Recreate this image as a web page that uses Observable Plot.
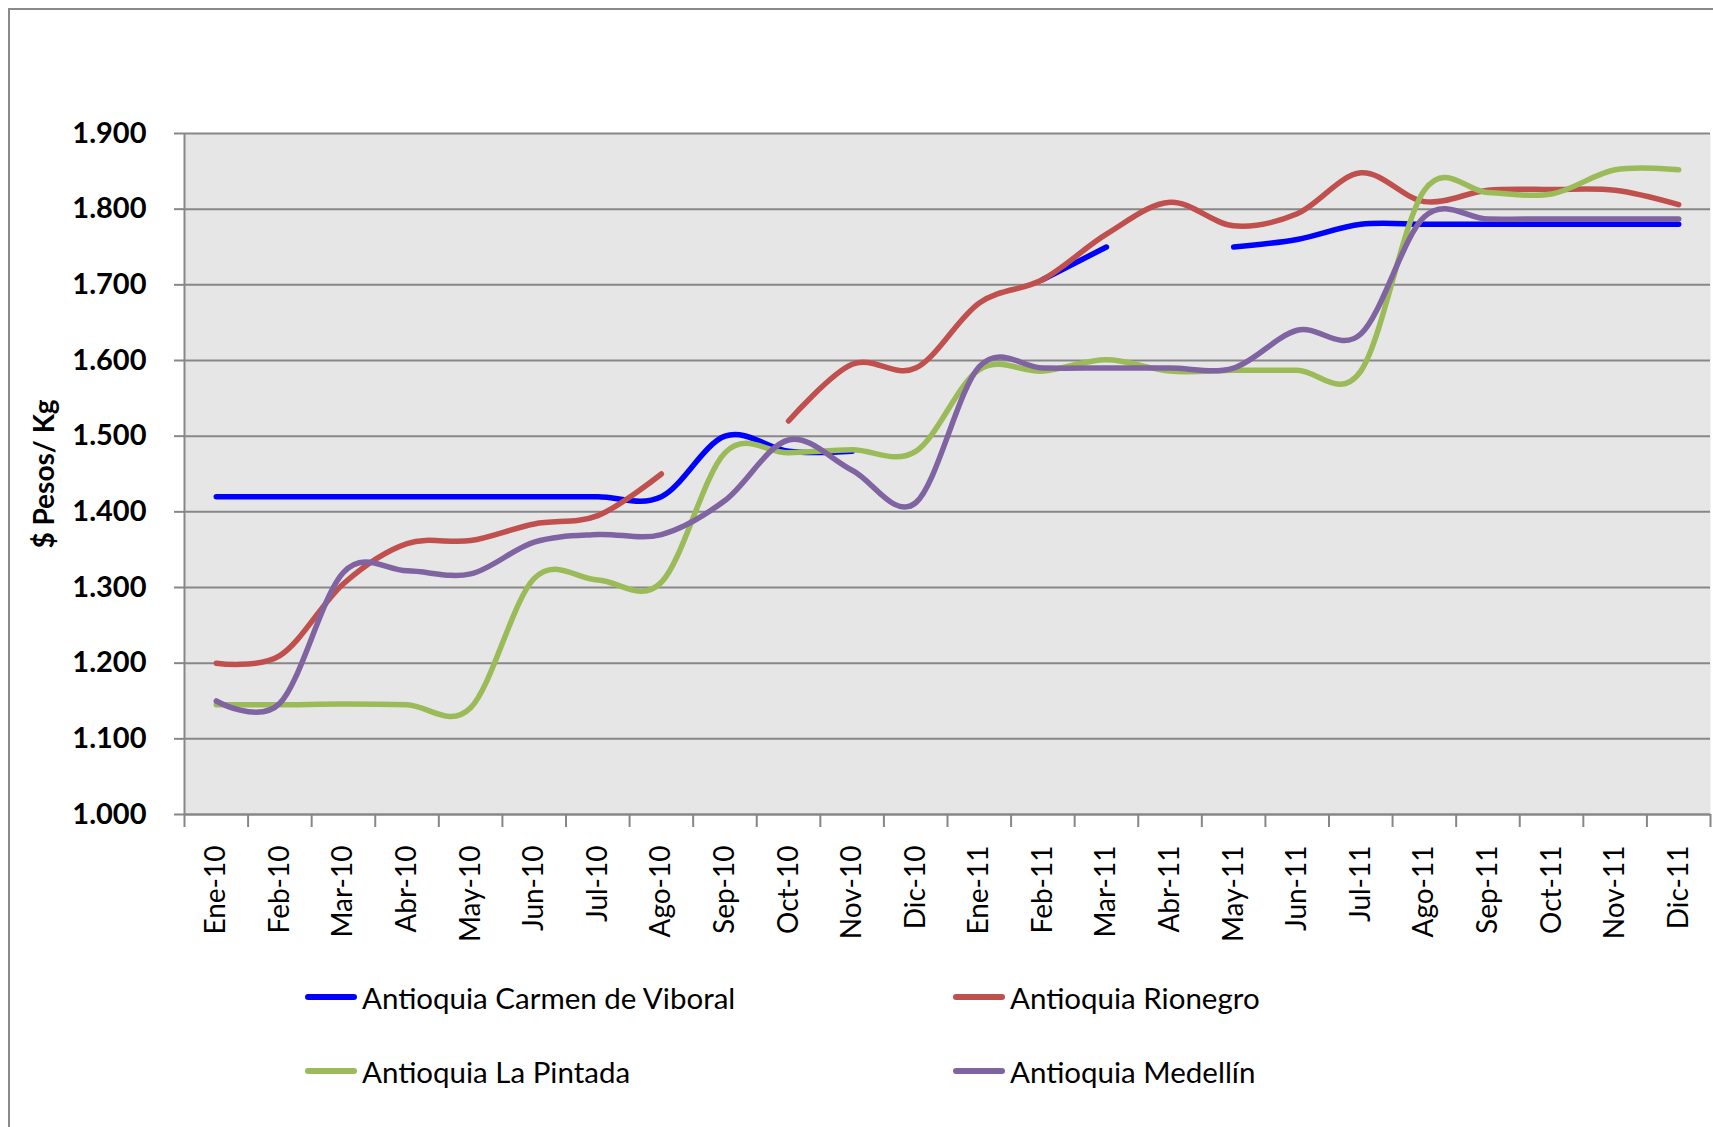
<!DOCTYPE html>
<html>
<head>
<meta charset="utf-8">
<script src="https://cdn.jsdelivr.net/npm/d3@7"></script>
<script src="https://cdn.jsdelivr.net/npm/@observablehq/plot@0.6"></script>
<style>
  html, body { margin: 0; padding: 0; background: #fff; overflow: hidden; }
  body { width: 1713px; height: 1127px; position: relative; font-family: Lato, "Open Sans", sans-serif; }
  #chart { position: absolute; left: 0; top: 0; }
  #frame { position: absolute; left: 8px; top: 8px; width: 1800px; height: 1300px;
           border-left: 2px solid #8a8a8a; border-top: 2px solid #8a8a8a; pointer-events: none; }
  .leg { position: absolute; display: flex; align-items: center; font-size: 29.5px; color: #000; white-space: nowrap; }
  .leg .sw { width: 52px; height: 5.5px; border-radius: 3px; margin-right: 5px; }
</style>
</head>
<body>
<div id="chart"></div>
<div id="legend"></div>
<div id="frame"></div>
<script>
const months = ["Ene-10","Feb-10","Mar-10","Abr-10","May-10","Jun-10","Jul-10","Ago-10","Sep-10","Oct-10","Nov-10","Dic-10",
                "Ene-11","Feb-11","Mar-11","Abr-11","May-11","Jun-11","Jul-11","Ago-11","Sep-11","Oct-11","Nov-11","Dic-11"];
const seriesNames = ["Antioquia Carmen de Viboral","Antioquia Rionegro","Antioquia La Pintada","Antioquia Medellín"];
const seriesColors = ["#0000ff","#c0504d","#9bbb59","#8064a2"];
const carmen   = [1420,1420,1420,1420,1420,1420,1420,1420,1500,1480,1480,null,null,1707,1750,null,1750,1760,1780,1780,1780,1780,1780,1780];
const rionegro = [1200,1210,1305,1358,1362,1384,1395,1450,null,1520,1595,1590,1676,1707,1767,1809,1778,1794,1848,1810,1825,1826,1825,1806];
const pintada  = [1145,1145,1146,1145,1141,1312,1310,1307,1478,1478,1482,1480,1588,1586,1601,1586,1587,1587,1586,1825,1822,1820,1852,1852];
const medellin = [1150,1147,1320,1322,1318,1360,1370,1370,1415,1495,1455,1412,1592,1590,1590,1590,1590,1640,1635,1790,1787,1787,1787,1787];
const yTicks = [1000,1100,1200,1300,1400,1500,1600,1700,1800,1900];
const yLabel = "$ Pesos/ Kg";

const allSeries = [carmen, rionegro, pintada, medellin];
const rows = [];
allSeries.forEach((vals, s) => vals.forEach((v, i) => rows.push({i, series: seriesNames[s], value: v})));
const idx = months.map((m, i) => i);
const bounds = d3.range(-0.5, months.length, 1);
const fmt = d => d3.format(",")(d).replace(/,/g, ".");

const plot = Plot.plot({
  width: 1713, height: 945,
  marginLeft: 184, marginRight: 3, marginTop: 133, marginBottom: 131,
  style: {fontFamily: "Lato, 'Open Sans', sans-serif", background: "transparent", color: "#000"},
  x: {type: "linear", domain: [-0.5, months.length - 0.5]},
  y: {domain: [1000, 1900]},
  color: {domain: seriesNames, range: seriesColors},
  marks: [
    Plot.frame({fill: "#e6e6e6", stroke: "none"}),
    Plot.gridY(yTicks, {stroke: "#878787", strokeOpacity: 1, strokeWidth: 2}),
    Plot.ruleX([-0.5], {stroke: "#878787", strokeWidth: 2}),
    Plot.ruleY([1000], {stroke: "#878787", strokeWidth: 2}),
    Plot.axisY(yTicks, {tickSize: 10, tickPadding: 28, tickFormat: fmt, fontSize: 29, fontWeight: "bold",
      stroke: "#878787", strokeWidth: 2, fill: "#000",
      label: yLabel, labelAnchor: "center", labelArrow: "none", labelOffset: 150}),
    Plot.axisX(bounds, {tickSize: 13, tickFormat: () => "", stroke: "#878787", strokeWidth: 2, label: null}),
    Plot.axisX(idx, {tickSize: 0, tickPadding: 31, tickRotate: -90, tickFormat: i => months[i], fontSize: 28, fill: "#000", label: null}),
    Plot.line(rows, {x: "i", y: "value", z: "series", stroke: "series", strokeWidth: 5.5,
      curve: "cardinal", tension: 0, strokeLinecap: "round", strokeLinejoin: "round"})
  ]
});
document.getElementById("chart").appendChild(plot);

// y-axis title styling
plot.querySelectorAll("text").forEach(t => {
  if (t.textContent === yLabel) { t.setAttribute("font-size", 28); t.setAttribute("font-weight", "bold"); }
});

// legend
const legPos = [
  {left: 305, top: 997}, {left: 953, top: 997},
  {left: 305, top: 1071}, {left: 953, top: 1071}
];
const legend = document.getElementById("legend");
seriesNames.forEach((name, k) => {
  const d = document.createElement("div");
  d.className = "leg";
  d.style.left = legPos[k].left + "px";
  d.style.top = (legPos[k].top - 20) + "px";
  d.style.height = "40px";
  const sw = document.createElement("span");
  sw.className = "sw";
  sw.style.background = seriesColors[k];
  const tx = document.createElement("span");
  tx.textContent = name;
  d.appendChild(sw); d.appendChild(tx);
  legend.appendChild(d);
});
</script>
</body>
</html>
